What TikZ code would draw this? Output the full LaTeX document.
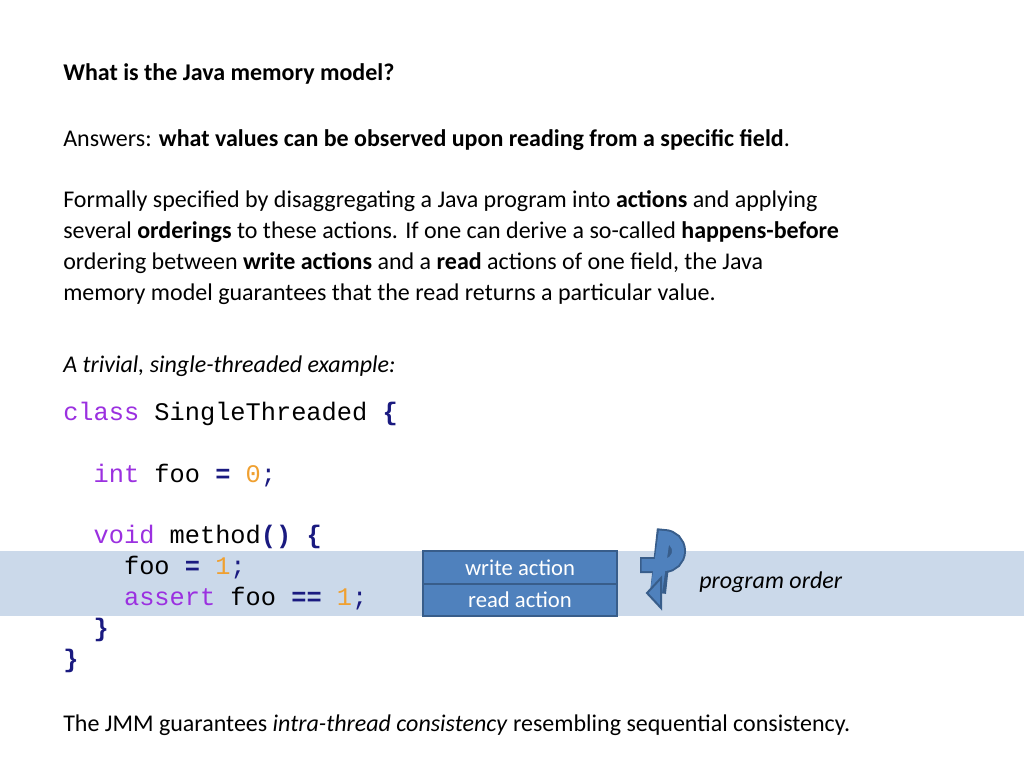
\documentclass[tikz,border=0pt]{standalone}
\usepackage{fontspec}
\setmainfont{Carlito}
\setmonofont{Liberation Mono}
\definecolor{band}{HTML}{CBD9EA}
\definecolor{boxf}{HTML}{4F81BD}
\definecolor{boxd}{HTML}{385D8A}
\definecolor{kw}{HTML}{9B30E0}
\definecolor{num}{HTML}{F0A030}
\definecolor{op}{HTML}{1A1A80}
\begin{document}
\begin{tikzpicture}[x=0.75pt,y=-0.75pt,
  txt/.style={anchor=base west,inner sep=0,font=\fontsize{18}{22}\selectfont},
  code/.style={anchor=base west,inner sep=0,font=\fontsize{19}{22}\ttfamily},
  act/.style={draw=boxd,line width=1.5pt,fill=boxf,text=white,minimum width=145.5pt,minimum height=24.5pt,inner sep=0,font=\fontsize{17}{20}\selectfont}]
\path[fill=white,use as bounding box] (0,0) rectangle (1024,768);
\fill[band] (0,551) rectangle (1024,616);
\node[txt] (t1) at (63,80) {\textbf{What is the Java memory model?}};
\node[txt] (t2) at (63,146) {Answers: \textbf{what values can be observed upon reading from a specific field}.};
\node[txt] (t3) at (63,207) {Formally specified by disaggregating a Java program into \textbf{actions} and applying};
\node[txt] (t4) at (63,238) {several \textbf{orderings} to these actions. If one can derive a so-called \textbf{happens-before}};
\node[txt] (t5) at (63,269) {ordering between \textbf{write actions} and a \textbf{read} actions of one field, the Java};
\node[txt] (t6) at (63,300) {memory model guarantees that the read returns a particular value.};
\node[txt] (t7) at (63,372) {\textit{A trivial, single-threaded example:}};
\node[code] (c1) at (63,420) {\textcolor{kw}{class} SingleThreaded \textcolor{op}{\textbf{\{}}};
\node[code] (c2) at (63,482) {\ \ \textcolor{kw}{int} foo \textcolor{op}{\textbf{=}} \textcolor{num}{0}\textcolor{op}{;}};
\node[code] (c3) at (63,543) {\ \ \textcolor{kw}{void} method\textcolor{op}{\textbf{()}} \textcolor{op}{\textbf{\{}}};
\node[code] (c4) at (63,574) {\ \ \ \ foo \textcolor{op}{\textbf{=}} \textcolor{num}{1}\textcolor{op}{;}};
\node[code] (c5) at (63,605) {\ \ \ \ \textcolor{kw}{assert} foo \textcolor{op}{\textbf{==}} \textcolor{num}{1}\textcolor{op}{;}};
\node[code] (c6) at (63,636) {\ \ \textcolor{op}{\textbf{\}}}};
\node[code] (c7) at (63,667) {\textcolor{op}{\textbf{\}}}};
\node[txt] (t8) at (63,731) {The JMM guarantees \textit{intra-thread consistency} resembling sequential consistency.};
\node[act] (w) at (520,567.5) {write action};
\node[act] (r) at (520,600) {read action};
% U-turn arrow
\draw[boxd,line width=12pt] (640,565) -- (664,565) arc (90:-90:14) -- (658,593);
\draw[boxf,line width=9pt] (641.5,565) -- (664,565) arc (90:-90:14) -- (656,593);
\filldraw[fill=boxf,draw=boxd,line width=1.5pt] (647,593) -- (661,578) -- (661,608) -- cycle;
\node[txt,font=\fontsize{18}{22}\selectfont\itshape] (po) at (699,588) {program order};
\end{tikzpicture}
\end{document}
